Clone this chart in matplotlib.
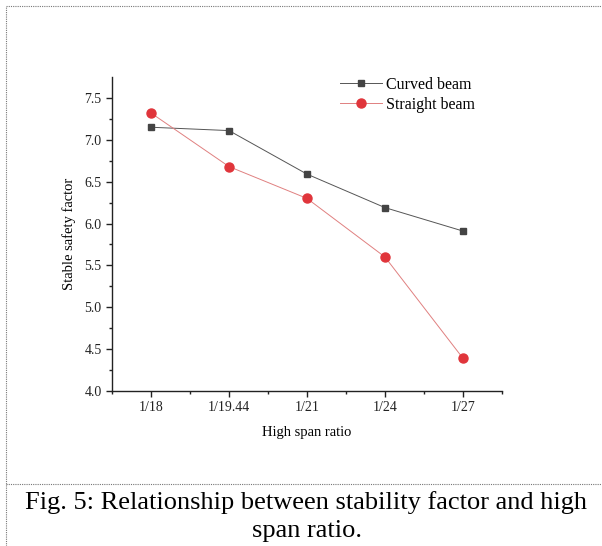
import matplotlib
matplotlib.use('Agg')
import matplotlib.pyplot as plt
from matplotlib.lines import Line2D

plt.rcParams['font.family'] = 'Liberation Serif'

ratios = ['1/18', '1/19.44', '1/21', '1/24', '1/27']
curved = [7.15, 7.11, 6.59, 6.19, 5.91]
straight = [7.32, 6.68, 6.30, 5.60, 4.39]

W, H = 602, 546
fig = plt.figure(figsize=(W / 100, H / 100), dpi=100)
ax = fig.add_axes([112 / W, 1 - 391 / H, 390 / W, 314 / H])

x = list(range(len(ratios)))
ax.plot(x, curved, '-', color='#555555', lw=0.7, marker='s', ms=5,
        mfc='#444444', mec='#444444', label='Curved beam')
ax.plot(x, straight, '-', color='#e08080', lw=0.7, marker='o', ms=6.5,
        mfc='#e0353b', mec='#e0353b', label='Straight beam')

ax.set_xlim(-0.5, 4.5)
ax.set_ylim(4.0, 7.75)
ax.set_xticks(x)
ax.set_xticklabels(ratios)
ax.set_xticks([i + 0.5 for i in range(-1, 5)], minor=True)
ax.set_yticks([4.0, 4.5, 5.0, 5.5, 6.0, 6.5, 7.0, 7.5])
ax.set_yticks([4.25 + 0.5 * i for i in range(7)], minor=True)
for s in ['top', 'right']:
    ax.spines[s].set_visible(False)
for s in ['left', 'bottom']:
    ax.spines[s].set_linewidth(1.0)
    ax.spines[s].set_color('#222222')
ax.tick_params(which='major', direction='out', length=4, width=1, labelsize=10, colors='#222222')
ax.tick_params(which='minor', direction='out', length=2.5, width=1, colors='#222222')
ax.set_xlabel('High span ratio', fontsize=10.5, labelpad=8)
ax.set_ylabel('Stable safety factor', fontsize=10.5, labelpad=6)
ax.legend(loc='upper left', bbox_to_anchor=(0.585, 1.0), frameon=False, fontsize=11.5,
          borderpad=0, borderaxespad=0, handlelength=2.6, handletextpad=0.3,
          labelspacing=0.25)

# dotted frame of the figure box
dot = dict(color='#777777', lw=0.8, ls=(0, (1, 1)), transform=fig.transFigure)
fig.add_artist(Line2D([6 / W, 6 / W], [0, 1 - 6 / H], **dot))
fig.add_artist(Line2D([6 / W, 1], [1 - 6 / H, 1 - 6 / H], **dot))
fig.add_artist(Line2D([6 / W, 1], [1 - 484 / H, 1 - 484 / H], **dot))

fig.text(25 / W, 1 - 503 / H, 'Fig. 5: Relationship between stability factor and high',
         ha='left', va='center', fontsize=19)
fig.text(0.5 + 6 / W, 1 - 531 / H, 'span ratio.', ha='center', va='center', fontsize=19)

fig.savefig('out.png', dpi=100)
